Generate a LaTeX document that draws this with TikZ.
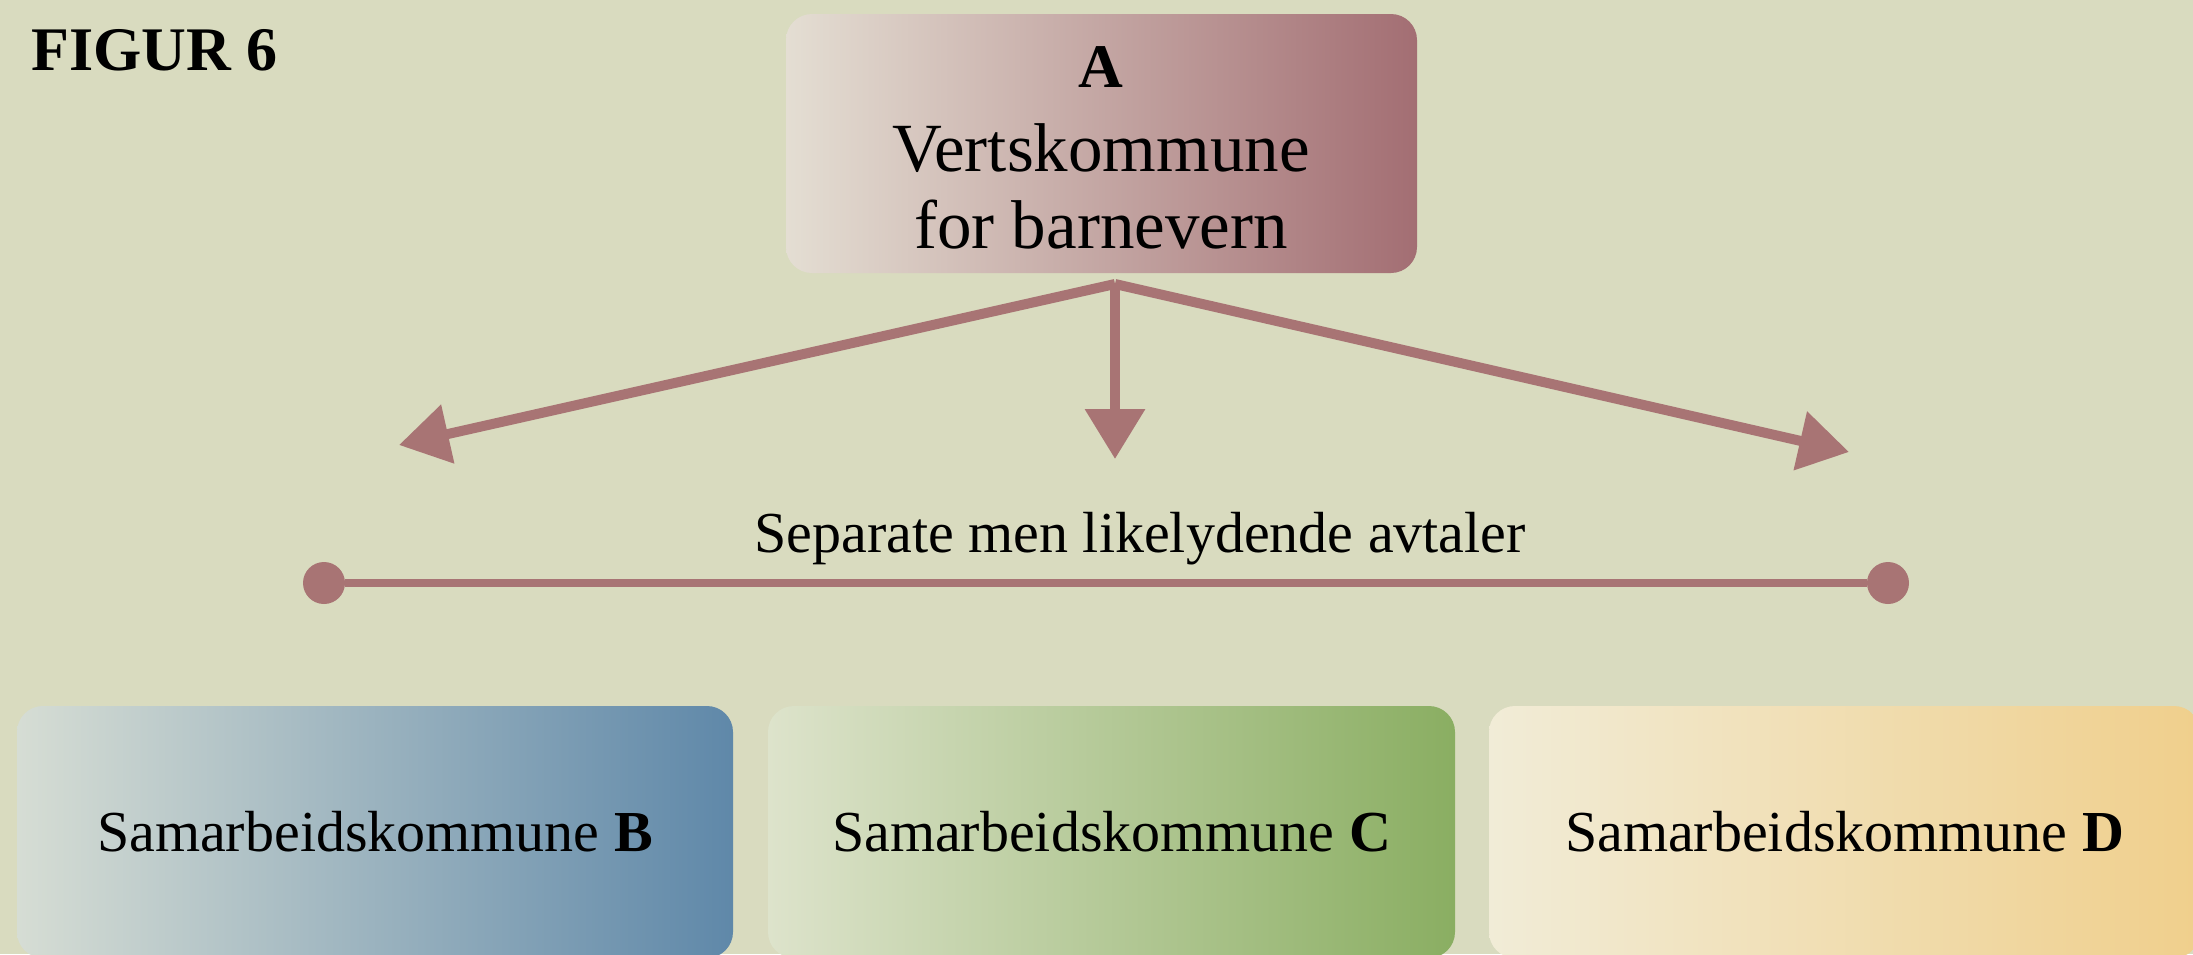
\documentclass[tikz,border=0pt]{standalone}
\usepackage{fontspec}
\setmainfont{Liberation Serif}
\usetikzlibrary{arrows.meta,shadings}
\definecolor{bg}{HTML}{D9DBBF}
\definecolor{rose}{HTML}{A87474}
\definecolor{aL}{HTML}{E4DED3}
\definecolor{aR}{HTML}{A36E73}
\definecolor{bL}{HTML}{D6DDD4}
\definecolor{bR}{HTML}{5F88A9}
\definecolor{cL}{HTML}{DDE3CB}
\definecolor{cR}{HTML}{8AAE62}
\definecolor{dL}{HTML}{F1ECD7}
\definecolor{dR}{HTML}{F0CF8C}
\begin{document}
\begin{tikzpicture}[x=1pt,y=-1pt,
  box/.style={rounded corners=26pt, inner sep=0pt, align=center},
  conn/.style={draw=rose, line width=10pt, -{Triangle[length=50pt,width=58pt]}},
  dot/.style={circle, fill=rose, minimum size=42pt, inner sep=0pt},
  big/.style={font=\fontsize{69}{77}\selectfont, inner sep=0pt},
  lbl/.style={font=\fontsize{58}{70}\selectfont, inner sep=0pt}
]
\useasboundingbox (0,0) rectangle (2193,954);
\fill[bg] (0,0) rectangle (2193,954);

% title
\node[anchor=base west, font=\fontsize{62}{70}\selectfont\bfseries, inner sep=0pt] (fig) at (31,70) {FIGUR 6};

% box A
\node[box, left color=aL, right color=aR, minimum width=631pt, minimum height=259pt] (A) at (1101.5,143.5) {};
\node[big, anchor=base, font=\fontsize{62}{70}\selectfont\bfseries] (Alet) at (1101,87) {A};
\node[big, anchor=base] (Al1) at (1101,171) {Vertskommune};
\node[big, anchor=base] (Al2) at (1101,248) {for barnevern};

% arrows
\coordinate (src) at (1115,284);
\coordinate (tipB) at (399,445);
\coordinate (tipC) at (1115,459);
\coordinate (tipD) at (1849,452);
\draw[conn] (src) -- (tipB);
\draw[conn] (src) -- (tipC);
\draw[conn] (src) -- (tipD);

% agreement line
\node[lbl, anchor=base] (sep) at (1140,552) {Separate men likelydende avtaler};
\node[dot] (dl) at (324,583) {};
\node[dot] (dr) at (1888,583) {};
\draw[rose, line width=8pt] (dl) -- (dr);

% bottom boxes
\node[box, lbl, left color=bL, right color=bR, minimum width=716pt, minimum height=252pt] (B) at (375,832) {Samarbeidskommune \textbf{B}};
\node[box, lbl, left color=cL, right color=cR, minimum width=687pt, minimum height=252pt] (C) at (1111.5,832) {Samarbeidskommune \textbf{C}};
\node[box, lbl, left color=dL, right color=dR, minimum width=711pt, minimum height=252pt] (D) at (1844.5,832) {Samarbeidskommune \textbf{D}};
\end{tikzpicture}
\end{document}
